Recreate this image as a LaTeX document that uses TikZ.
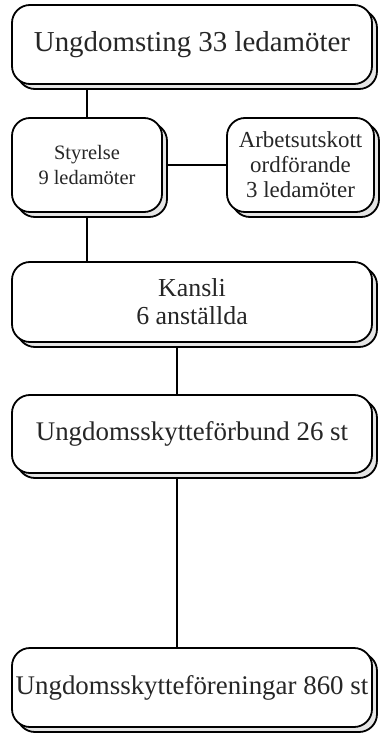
\documentclass[tikz,border=0pt]{standalone}
\usepackage{fontspec}
\setmainfont{Liberation Serif}
\usetikzlibrary{shadows,backgrounds}
\tikzset{
  orgbox/.style={draw=black, line width=1.8bp, fill=white, rounded corners=18bp,
    inner sep=0pt, align=center, text=black!85,
    copy shadow={shadow xshift=5bp, shadow yshift=-5bp, fill=black!10, draw=black, line width=1.8bp}},
  link/.style={draw=black, line width=2bp}
}
\begin{document}
\begin{tikzpicture}[x=1bp,y=-1bp]
\useasboundingbox (0,0) rectangle (382,734);
\node[orgbox, minimum width=360bp, minimum height=79bp, font=\fontsize{29}{32}\selectfont] (b1) at (192,44.5) {Ungdomsting 33 ledamöter};
\node[orgbox, minimum width=150bp, minimum height=94bp, font=\fontsize{20.5}{25}\selectfont] (b2) at (87,165) {Styrelse\\9 ledamöter};
\node[orgbox, minimum width=147bp, minimum height=94bp, font=\fontsize{23}{25}\selectfont] (b3) at (300.5,165) {Arbetsutskott\\ordförande\\3 ledamöter};
\node[orgbox, minimum width=360bp, minimum height=80bp, font=\fontsize{26}{28}\selectfont] (b4) at (192,302) {Kansli\\6 anställda};
\node[orgbox, minimum width=360bp, minimum height=78bp, font=\fontsize{27}{30}\selectfont] (b5) at (192,434) {Ungdomsskytteförbund 26 st};
\node[orgbox, minimum width=360bp, minimum height=79bp, font=\fontsize{27}{30}\selectfont] (b6) at (192,687.5) {Ungdomsskytteföreningar 860 st};
\begin{scope}[on background layer]
\draw[link] (b2.north |- b1.south) -- (b2.north);
\draw[link] (b2.east) -- (b3.west);
\draw[link] (b2.south) -- (b2.south |- b4.north);
\draw[link] ([xshift=-15bp]b4.south) -- ([xshift=-15bp]b5.north);
\draw[link] ([xshift=-15bp]b5.south) -- ([xshift=-15bp]b6.north);
\end{scope}
\end{tikzpicture}
\end{document}
